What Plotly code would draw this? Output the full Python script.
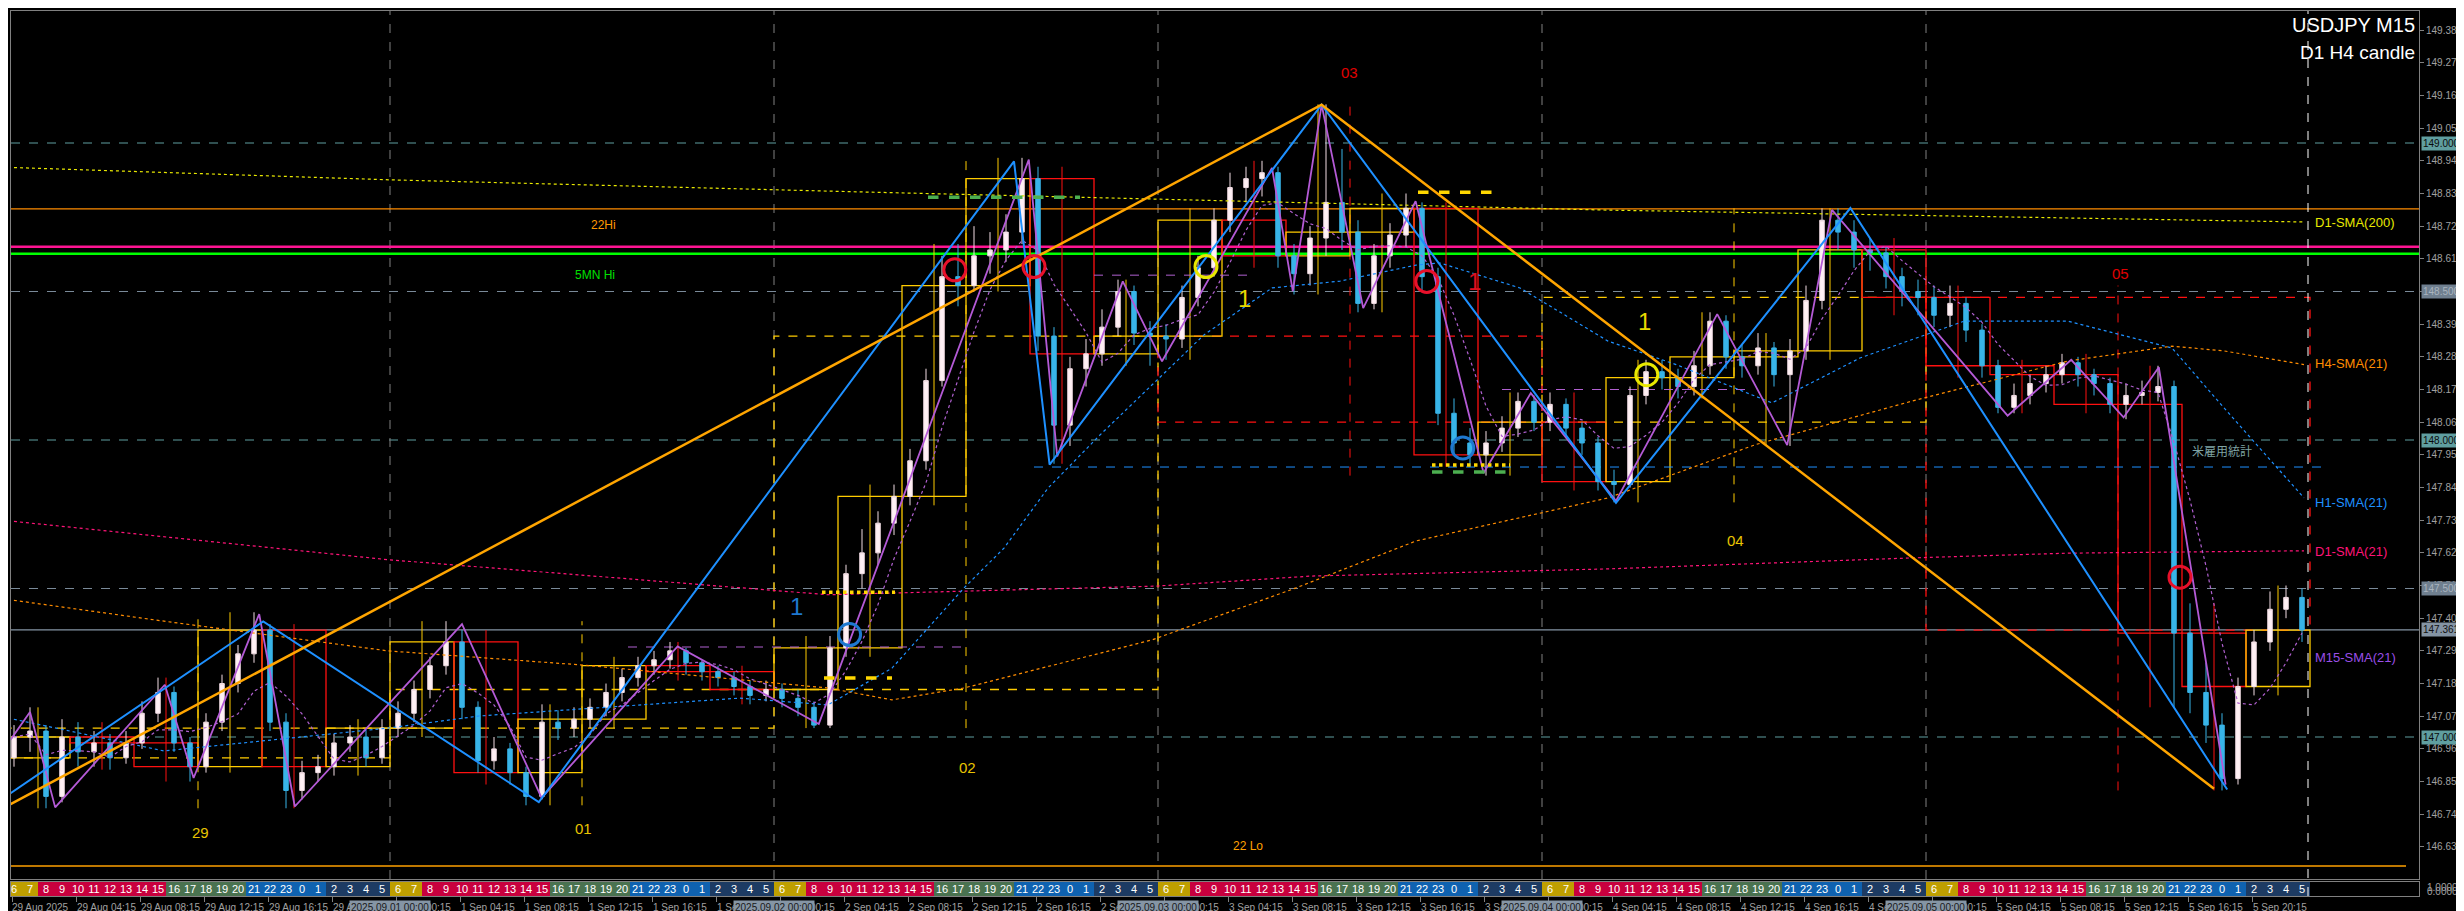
import numpy as np
import pandas as pd
import plotly.graph_objects as go

# ---------------- data ----------------
# hourly OHLC summary of the M15 chart, 29 Aug 00:00 -> 5 Sep 23:00 (server time)
first_open = 146.93
closes = [147.00, 147.02, 146.80, 147.00, 146.95, 146.98, 146.93, 146.98, 147.08, 147.15, 146.98, 146.90,
          147.05, 147.18, 147.28, 147.36, 147.05, 146.82, 146.88, 146.90, 146.98, 147.00, 146.93, 147.03,
          147.08, 147.16, 147.24, 147.32, 147.10, 146.92, 146.96, 146.88, 146.80, 147.05, 147.03, 147.06,
          147.10, 147.15, 147.20, 147.24, 147.26, 147.29, 147.25, 147.22, 147.20, 147.17, 147.14, 147.16,
          147.13, 147.10, 147.04, 147.30, 147.55, 147.62, 147.72, 147.81, 147.93, 148.20, 148.55, 148.52,
          148.62, 148.64, 148.70, 148.88, 148.35, 148.05, 148.24, 148.29, 148.38, 148.50, 148.36, 148.35,
          148.34, 148.48, 148.58, 148.74, 148.85, 148.88, 148.90, 148.62, 148.56, 148.68, 148.80, 148.70,
          148.46, 148.62, 148.69, 148.78, 148.55, 148.09, 147.99, 147.95, 147.99, 148.04, 148.13, 148.06,
          148.12, 148.04, 147.99, 147.86, 147.85, 148.15, 148.23, 148.21, 148.18, 148.25, 148.40, 148.28,
          148.25, 148.31, 148.22, 148.30, 148.47, 148.74, 148.70, 148.64, 148.63, 148.55, 148.50, 148.48,
          148.42, 148.46, 148.37, 148.25, 148.11, 148.15, 148.19, 148.22, 148.26, 148.22, 148.19, 148.12,
          148.15, 148.16, 148.18, 147.35, 147.15, 147.04, 146.86, 147.17, 147.32, 147.43, 147.47, 147.36]
highs = [147.04, 147.10, 147.04, 147.06, 147.05, 147.02, 147.01, 147.02, 147.12, 147.20, 147.17, 147.00,
         147.08, 147.21, 147.31, 147.42, 147.38, 147.08, 146.92, 146.94, 147.01, 147.04, 147.02, 147.06,
         147.12, 147.19, 147.27, 147.39, 147.36, 147.12, 147.00, 146.98, 146.90, 147.11, 147.09, 147.10,
         147.13, 147.18, 147.23, 147.27, 147.29, 147.32, 147.30, 147.26, 147.24, 147.22, 147.19, 147.19,
         147.18, 147.16, 147.12, 147.34, 147.58, 147.70, 147.76, 147.85, 147.97, 148.24, 148.62, 148.66,
         148.72, 148.70, 148.76, 148.95, 148.92, 148.38, 148.28, 148.34, 148.44, 148.54, 148.52, 148.40,
         148.39, 148.52, 148.62, 148.78, 148.90, 148.92, 148.94, 148.92, 148.66, 148.72, 149.13, 148.98,
         148.74, 148.66, 148.73, 148.83, 148.80, 148.58, 148.14, 148.04, 148.03, 148.08, 148.16, 148.15,
         148.16, 148.14, 148.06, 148.01, 147.90, 148.18, 148.27, 148.27, 148.24, 148.30, 148.43, 148.42,
         148.32, 148.36, 148.33, 148.34, 148.52, 148.78, 148.78, 148.74, 148.68, 148.65, 148.58, 148.54,
         148.52, 148.52, 148.48, 148.39, 148.27, 148.19, 148.22, 148.25, 148.29, 148.28, 148.24, 148.21,
         148.19, 148.20, 148.25, 148.20, 147.45, 147.25, 147.08, 147.20, 147.36, 147.49, 147.51, 147.50]
lows = [146.90, 146.95, 146.76, 146.78, 146.90, 146.90, 146.89, 146.91, 146.96, 147.05, 146.95, 146.85,
        146.88, 147.02, 147.15, 147.25, 147.02, 146.76, 146.79, 146.85, 146.87, 146.95, 146.90, 146.91,
        147.00, 147.05, 147.13, 147.21, 147.06, 146.88, 146.89, 146.84, 146.77, 146.79, 146.99, 147.00,
        147.03, 147.07, 147.12, 147.17, 147.21, 147.23, 147.21, 147.19, 147.17, 147.14, 147.11, 147.12,
        147.10, 147.07, 147.03, 147.03, 147.27, 147.50, 147.58, 147.68, 147.78, 147.90, 148.18, 148.45,
        148.50, 148.56, 148.60, 148.66, 148.30, 147.92, 147.98, 148.18, 148.25, 148.35, 148.32, 148.25,
        148.27, 148.31, 148.45, 148.55, 148.70, 148.80, 148.82, 148.58, 148.49, 148.52, 148.62, 148.64,
        148.43, 148.44, 148.58, 148.65, 148.50, 148.05, 147.95, 147.91, 147.88, 147.96, 148.01, 148.03,
        148.03, 148.01, 147.95, 147.83, 147.79, 147.84, 148.12, 148.17, 148.14, 148.15, 148.22, 148.24,
        148.21, 148.22, 148.18, 147.98, 148.27, 148.44, 148.64, 148.58, 148.57, 148.51, 148.45, 148.42,
        148.38, 148.38, 148.33, 148.21, 148.09, 148.09, 148.12, 148.16, 148.19, 148.18, 148.15, 148.09,
        148.07, 148.12, 148.13, 147.10, 147.08, 146.98, 146.82, 146.84, 147.14, 147.29, 147.40, 147.32]

# zigzag swing points: (bar index, price)
zz_orange_bar = [0.65, 328.4, 551.5]
zz_orange_px = [146.774, 149.129, 146.826]
zz_blue_bar = [0.65, 63.8, 132.7, 251.5, 260.4, 328.4, 402.0, 460.6, 554.8]
zz_blue_px = [146.811, 147.389, 146.781, 148.938, 147.917, 149.129, 147.788, 148.781, 146.823]
zz_violet_bar = [0.65, 5.5, 11.8, 39.2, 46.4, 62.8, 71.7, 113.5, 133.4, 167.4, 202.7, 255.2, 262.3,
                 278.7, 288.5, 316.0, 321.2, 328.4, 338.8, 351.9, 368.9, 380.7, 402.0, 427.3, 444.8,
                 456.0, 499.9, 515.8, 528.9, 537.7, 554.4]
zz_violet_px = [146.991, 147.084, 146.763, 147.176, 146.862, 147.414, 146.766, 147.380, 146.795, 147.305,
                147.044, 148.944, 147.945, 148.534, 148.265, 148.916, 148.501, 149.129, 148.444, 148.804,
                147.889, 148.158, 147.795, 148.424, 147.983, 148.775, 148.082, 148.270, 148.076, 148.245,
                146.840]

# moving averages drawn by the indicator (bar, price)
d1_sma200_bar = [0, 95.5, 205, 400, 574]
d1_sma200_px = [148.918, 148.876, 148.838, 148.774, 148.734]
d1_sma21_bar = [0, 95, 205, 287, 326, 400, 476, 515, 574]
d1_sma21_px = [147.728, 147.597, 147.479, 147.508, 147.542, 147.566, 147.603, 147.619, 147.627]
h4_sma21_bar = [0, 39, 95, 144, 205, 221, 239, 286, 322, 352, 400, 437, 476, 515, 541, 554, 574]
h4_sma21_px = [147.463, 147.390, 147.290, 147.242, 147.165, 147.125, 147.165, 147.327, 147.502, 147.660,
               147.805, 147.985, 148.131, 148.266, 148.316, 148.300, 148.254]
h1_sma21_bar = [0, 39, 95, 118, 183, 205, 221, 239, 249, 260, 273, 299, 316, 333, 352, 358, 378, 400,
                417, 441, 463, 489, 515, 541, 554, 574]
h1_sma21_px = [147.064, 146.953, 147.030, 147.071, 147.131, 147.108, 147.232, 147.502, 147.636, 147.838,
               148.017, 148.354, 148.512, 148.535, 148.589, 148.596, 148.512, 148.333, 148.254, 148.125,
               148.276, 148.400, 148.400, 148.310, 148.108, 147.805]

# horizontal levels
level_22hi = 148.778
level_22lo = 146.566
level_pink = 148.651
level_5mn_hi = 148.627
current_price = 147.361
round_levels = [149.000, 148.500, 148.000, 147.500, 147.000]

# circle marks (bar, price)
red_circle_bar = [236.7, 256.5, 354.7, 543.0]
red_circle_px = [148.573, 148.584, 148.534, 147.538]
yellow_circle_bar = [299.5, 409.7]
yellow_circle_px = [148.584, 148.220]
blue_circle_bar = [210.4, 363.7]
blue_circle_px = [147.345, 147.973]

# price axis tick labels
y_tick_text = ["149.380", "149.270", "149.160", "149.050", "148.940", "148.830", "148.720", "148.610",
               "148.500", "148.390", "148.280", "148.170", "148.060", "147.950", "147.840", "147.730",
               "147.620", "147.510", "147.400", "147.290", "147.180", "147.070", "146.960", "146.850",
               "146.740", "146.630"]
day_names = ["29 Aug", "1 Sep", "2 Sep", "3 Sep", "4 Sep", "5 Sep"]
day_stamps = ["2025.08.29", "2025.09.01", "2025.09.02", "2025.09.03", "2025.09.04", "2025.09.05"]
day_tags = ["29", "01", "02", "03", "04", "05"]

# ---------------- geometry ----------------
W, H = 2464, 911
PX0, PX1 = 3, 2411
PY0, PY1 = 3, 871
SY0, SY1 = 874, 888
BAR_PX = 4.0
P_TOP = 149.0 + (135 - PY0) / 297.0
P_BOT = 149.0 - (PY1 - 135) / 297.0


def py(ypx):
    return 1 - ypx / H


def pxp(xpx):
    return xpx / W


BG = "#000000"
GRAY = "#808080"
YEL = "#ffcc00"
RED = "#ff1010"

n_h = len(closes)
opens = [first_open] + closes[:-1]
xc = [4 * h + 1.5 for h in range(n_h)]

fig = go.Figure()
shapes = []
ann = []

# round-number dotted levels
for lv in round_levels:
    col = "#5f9ea0" if abs(lv - round(lv)) < 1e-6 else "#7a8a99"
    shapes.append(dict(type="line", xref="paper", yref="y", x0=pxp(PX0), x1=pxp(PX1), y0=lv, y1=lv,
                       line=dict(color=col, width=1, dash="dash"), layer="below"))

# day separators
for d in range(1, 6):
    xb = 96 * d - 0.5
    shapes.append(dict(type="line", xref="x", yref="paper", x0=xb, x1=xb, y0=py(PY1), y1=py(PY0),
                       line=dict(color=GRAY, width=1, dash="dash"), layer="below"))

# H4 and D1 candle boxes (aggregated from hourly data)
def agg_boxes(step, dash, wick_w):
    for g in range(0, n_h, step):
        o = opens[g]
        c = closes[min(g + step, n_h) - 1]
        hi = max(highs[g:g + step])
        lo = min(lows[g:g + step])
        x0 = 4 * g - 0.5
        x1 = 4 * (g + step) - 0.5
        xm = (x0 + x1) / 2
        col = YEL if c >= o else RED
        shapes.append(dict(type="line", xref="x", yref="y", x0=xm, x1=xm, y0=lo, y1=hi,
                           line=dict(color=col, width=wick_w, dash=dash), layer="below"))
        shapes.append(dict(type="rect", xref="x", yref="y", x0=x0, x1=x1, y0=o, y1=c,
                           line=dict(color=col, width=1.3, dash=dash), fillcolor="rgba(0,0,0,0)",
                           layer="below"))

agg_boxes(24, "dash", 1)
agg_boxes(4, "solid", 1)

# horizontal level lines
shapes.append(dict(type="line", xref="paper", yref="y", x0=pxp(PX0), x1=pxp(PX1), y0=level_22hi, y1=level_22hi,
                   line=dict(color="#ff8c00", width=1.2), layer="below"))
shapes.append(dict(type="line", xref="paper", yref="y", x0=pxp(PX0), x1=pxp(2398), y0=level_22lo, y1=level_22lo,
                   line=dict(color="#ffa000", width=1.5), layer="below"))
shapes.append(dict(type="line", xref="paper", yref="y", x0=pxp(PX0), x1=pxp(PX1), y0=level_pink, y1=level_pink,
                   line=dict(color="#ff1493", width=2.5), layer="below"))
shapes.append(dict(type="line", xref="paper", yref="y", x0=pxp(PX0), x1=pxp(PX1), y0=level_5mn_hi, y1=level_5mn_hi,
                   line=dict(color="#00ff00", width=2.5), layer="below"))
shapes.append(dict(type="line", xref="paper", yref="y", x0=pxp(PX0), x1=pxp(PX1), y0=current_price, y1=current_price,
                   line=dict(color="#8494a4", width=1.2), layer="below"))

# blue support line and violet dashed levels
shapes.append(dict(type="line", xref="x", yref="y", x0=256.5, x1=578.5, y0=147.909, y1=147.909,
                   line=dict(color="#1e90ff", width=1, dash="dash"), layer="below"))
for (a, b, lv) in [(155, 239.5, 147.303), (271.5, 311, 148.555), (373.5, 435.5, 148.170)]:
    shapes.append(dict(type="line", xref="x", yref="y", x0=a, x1=b, y0=lv, y1=lv,
                       line=dict(color="#b060d0", width=1, dash="dash"), layer="below"))

# thick support/resistance markers
for (a, b, lv, col, dsh) in [(230, 268, 148.817, "#4caf50", "dash"), (352.5, 372, 148.834, "#ffd700", "dash"),
                             (356, 375.5, 147.916, "#ffd700", "dot"), (356, 375.5, 147.892, "#4caf50", "dash"),
                             (204, 221, 147.199, "#ffd700", "dash"), (203.5, 221.75, 147.487, "#ffd700", "dot")]:
    shapes.append(dict(type="line", xref="x", yref="y", x0=a, x1=b, y0=lv, y1=lv,
                       line=dict(color=col, width=3.5, dash=dsh), layer="above"))

# chart-shift marker
shapes.append(dict(type="line", xref="x", yref="paper", x0=575, x1=575, y0=py(SY1), y1=py(PY0),
                   line=dict(color="#ffffff", width=1, dash="dash"), layer="above"))

# ---- moving averages ----
def dotted(xs, ys, col, w=1.2):
    fig.add_trace(go.Scatter(x=xs, y=ys, mode="lines", line=dict(color=col, width=w, dash="dot"),
                             hoverinfo="skip", xaxis="x", yaxis="y"))

dotted(d1_sma200_bar, d1_sma200_px, "#e8e800")
dotted(d1_sma21_bar, d1_sma21_px, "#ff1478")
dotted(h4_sma21_bar, h4_sma21_px, "#ff8c00")
dotted(h1_sma21_bar, h1_sma21_px, "#1e90ff")
m15_sma = pd.Series(closes).rolling(5, min_periods=1).mean()
dotted(xc, list(m15_sma), "#b060d0")

# ---- candles ----
fig.add_trace(go.Candlestick(
    x=xc, open=opens, high=highs, low=lows, close=closes, whiskerwidth=0,
    increasing=dict(line=dict(color="#f2dde4", width=1), fillcolor="#fff0f4"),
    decreasing=dict(line=dict(color="#38b4e8", width=1), fillcolor="#38b4e8"),
    hoverinfo="skip", xaxis="x", yaxis="y"))

# ---- zigzags ----
fig.add_trace(go.Scatter(x=zz_violet_bar, y=zz_violet_px, mode="lines", line=dict(color="#b45ad6", width=1.8),
                         hoverinfo="skip"))
fig.add_trace(go.Scatter(x=zz_blue_bar, y=zz_blue_px, mode="lines", line=dict(color="#1e90ff", width=2),
                         hoverinfo="skip"))
fig.add_trace(go.Scatter(x=zz_orange_bar, y=zz_orange_px, mode="lines", line=dict(color="#ffa500", width=2.5),
                         hoverinfo="skip"))

# ---- circles ----
for bars, pxs, col in [(red_circle_bar, red_circle_px, "#e8102a"), (yellow_circle_bar, yellow_circle_px, "#e8e800"),
                       (blue_circle_bar, blue_circle_px, "#1e78d0")]:
    fig.add_trace(go.Scatter(x=bars, y=pxs, mode="markers", hoverinfo="skip",
                             marker=dict(symbol="circle-open", size=22, color=col, line=dict(width=3, color=col))))

# ---- hour strip (JST session colours) ----
def sess_color(j):
    if j in (6, 7):
        return "#bf9f00"
    if 8 <= j <= 15:
        return "#c8003e"
    if 16 <= j <= 20:
        return "#4a7250"
    if j in (21, 22, 23, 0, 1):
        return "#0f62b0"
    return "#1d3b63"

jst = [((h % 24) + 6) % 24 for h in range(n_h)]
fig.add_trace(go.Bar(x=xc, y=[1] * n_h, width=[4] * n_h, marker=dict(color=[sess_color(j) for j in jst], line=dict(width=0)),
                     text=[str(j) for j in jst], textposition="inside", insidetextanchor="middle", textangle=0,
                     constraintext="none", textfont=dict(color="#ffffff", size=11, family="Liberation Sans"),
                     hoverinfo="skip", xaxis="x2", yaxis="y2"))

# ---------------- annotations ----------------
def add_text(x, y, text, col, size, xref="x", yref="y", xanchor="center", yanchor="middle", family="Liberation Sans",
             bg=None, pad=1):
    d = dict(x=x, y=y, xref=xref, yref=yref, text=text, showarrow=False, xanchor=xanchor, yanchor=yanchor,
             font=dict(color=col, size=size, family=family))
    if bg:
        d.update(bgcolor=bg, borderpad=pad)
    ann.append(d)

# price labels on the axis
add_text(pxp(2413), 149.000, "149.000", "#0a0a0a", 10, xref="paper", xanchor="left", bg="#5f9ea0")
add_text(pxp(2413), 148.000, "148.000", "#0a0a0a", 10, xref="paper", xanchor="left", bg="#5f9ea0")
add_text(pxp(2413), 147.000, "147.000", "#0a0a0a", 10, xref="paper", xanchor="left", bg="#5f9ea0")
add_text(pxp(2413), 148.500, "148.500", "#a9b4bf", 10, xref="paper", xanchor="left", bg="#6f7f8f")
add_text(pxp(2413), 147.500, "147.500", "#a9b4bf", 10, xref="paper", xanchor="left", bg="#6f7f8f")
add_text(pxp(2413), current_price, "147.361", "#101010", 10, xref="paper", xanchor="left", bg="#8494a4")
add_text(pxp(2417), py(879), "1.0000", "#a0a0a0", 10, xref="paper", yref="paper", xanchor="left")
add_text(pxp(2417), py(883), "0.0000", "#a0a0a0", 10, xref="paper", yref="paper", xanchor="left")

# titles
add_text(pxp(2409), py(17), "USDJPY M15", "#ffffff", 20, xref="paper", yref="paper", xanchor="right")
add_text(pxp(2409), py(45), "D1 H4 candle", "#ffffff", 19, xref="paper", yref="paper", xanchor="right")

# indicator labels on the right
for txt, lv, col in [("D1-SMA(200)", 148.734, "#e8e800"), ("H4-SMA(21)", 148.256, "#ff8c00"),
                     ("H1-SMA(21)", 147.791, "#1e90ff"), ("D1-SMA(21)", 147.626, "#ff1478"),
                     ("M15-SMA(21)", 147.269, "#9a4ee6")]:
    add_text(576.3, lv, txt, col, 13, xanchor="left")

# level labels
add_text(148.75, 148.724, "22Hi", "#ff9900", 12)
add_text(146.75, 148.556, "5MN Hi", "#00e000", 12)
add_text(310, 146.633, "22 Lo", "#ffa000", 12)
add_text(553.6, 147.964, "米雇用統計", "#7fa3a3", 12, family="Noto Sans CJK JP")

# day labels (colour by daily candle direction)
day_lab_pos = [(48, 146.680), (143.75, 146.691), (239.75, 146.899), (335.25, 149.236), (431.9, 147.663), (528, 148.559)]
for d in range(6):
    g = 24 * d
    col = "#e8c400" if closes[g + 23] >= opens[g] else "#e00000"
    add_text(day_lab_pos[d][0], day_lab_pos[d][1], day_tags[d], col, 15)

# count labels "1"
add_text(197, 147.441, "1", "#1e78d0", 24)
add_text(309, 148.478, "1", "#e8d800", 24)
add_text(409, 148.400, "1", "#e8d800", 24)
add_text(366.7, 148.534, "1", "#e01020", 24)

# time axis labels (every 16 bars; first one shows the year)
add_text(pxp(2), py(899), "29 Aug 2025", "#a0a0a0", 10, xref="paper", yref="paper", xanchor="left")
tick_bars = [b for b in range(17, 576, 16)]
for b in tick_bars:
    d = b // 96
    r = b % 96
    lab = "%s %02d:%02d" % (day_names[d], r // 4, (r % 4) * 15)
    add_text(b - 0.2, py(899), lab, "#a0a0a0", 10, yref="paper", xanchor="left")
# day-start highlight stamps (drawn over the regular labels, as in the terminal)
for d in range(1, 6):
    add_text(96 * d - 0.5, py(899), day_stamps[d] + " 00:00", "#1a1a1a", 10, yref="paper", bg="#8595a5")

# ---------------- layout ----------------
fig.update_layout(
    width=W, height=H, margin=dict(l=0, r=0, t=0, b=0),
    paper_bgcolor=BG, plot_bgcolor=BG, showlegend=False, boxgap=0.6, bargap=0,
    font=dict(family="Liberation Sans", color="#a0a0a0", size=10),
    xaxis=dict(domain=[pxp(PX0), pxp(PX1)], range=[PX0 / BAR_PX, PX1 / BAR_PX], showgrid=False, zeroline=False,
               showticklabels=False, showline=True, mirror=True, linecolor=GRAY, linewidth=1,
               rangeslider=dict(visible=False), anchor="y", fixedrange=True),
    yaxis=dict(domain=[py(PY1), py(PY0)], range=[P_BOT, P_TOP], side="right", showgrid=False, zeroline=False,
               tickvals=[float(t) for t in y_tick_text], ticktext=y_tick_text, ticks="outside", ticklen=4,
               tickcolor=GRAY, tickfont=dict(color="#a0a0a0", size=10, family="Liberation Sans"),
               showline=True, mirror=True, linecolor=GRAY, anchor="x", fixedrange=True),
    xaxis2=dict(domain=[pxp(PX0), pxp(PX1)], matches="x", anchor="y2", showgrid=False, zeroline=False,
                showticklabels=False, showline=True, mirror=True, linecolor=GRAY, ticks="outside", ticklen=5,
                tickcolor=GRAY, tickvals=[1] + tick_bars),
    yaxis2=dict(domain=[py(SY1), py(SY0)], range=[0, 1], showgrid=False, zeroline=False, showticklabels=False,
                showline=True, mirror=True, linecolor=GRAY, side="right", anchor="x2", fixedrange=True),
    shapes=shapes, annotations=ann,
)

fig.write_html("out.html")
